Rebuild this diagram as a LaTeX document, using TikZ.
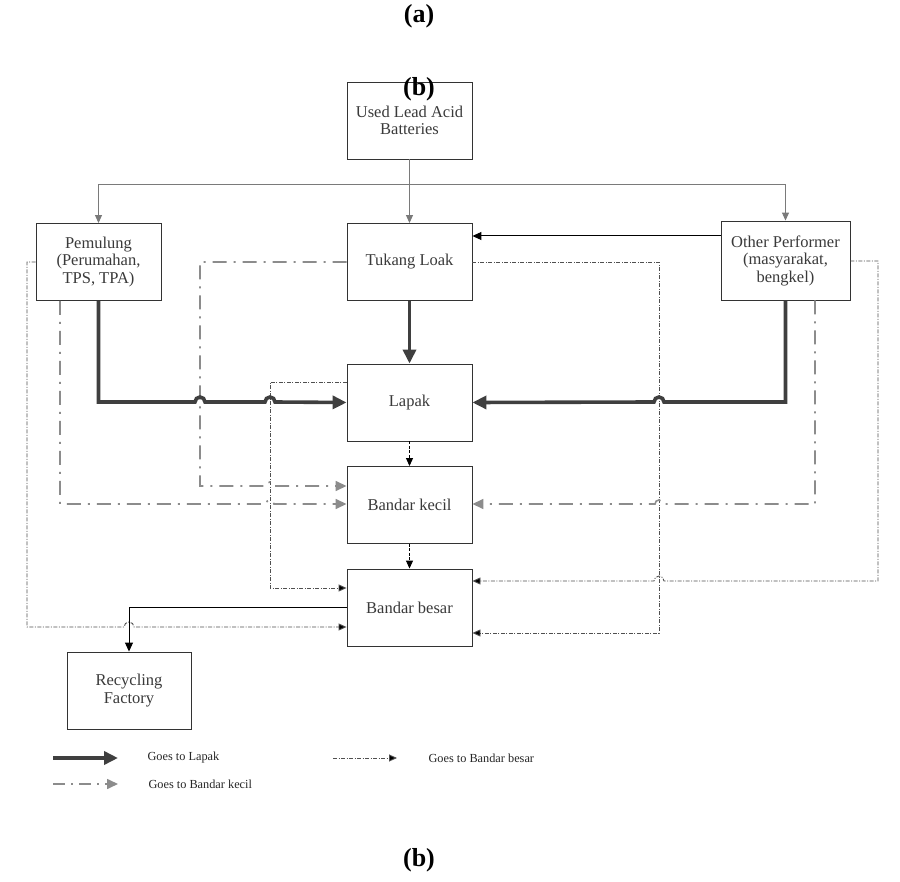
\documentclass[tikz,border=0pt]{standalone}
\usepackage{fontspec}
\setmainfont{Liberation Serif}
\usetikzlibrary{arrows.meta,calc}
\definecolor{thk}{HTML}{3F3F3F}
\definecolor{dd}{HTML}{8C8C8C}
\definecolor{dot}{HTML}{505050}
\definecolor{boxc}{HTML}{333333}
\definecolor{txt}{HTML}{3A3A3A}
\definecolor{thin}{HTML}{7A7A7A}
\begin{document}
\begin{tikzpicture}[x=1pt,y=-1pt,
  box/.style={draw=boxc,line width=0.9pt,minimum width=125pt,minimum height=77pt,
    align=center,inner sep=0pt,text=txt,font=\fontsize{16.5}{17.5}\selectfont},
  thkline/.style={draw=thk,line width=3.6pt},
  thkarr/.style={thkline,-{Triangle[length=14pt,width=13pt]}},
  ddline/.style={draw=dd,line width=1.6pt,dash pattern=on 14pt off 7pt on 2pt off 7pt},
  ddarr/.style={ddline,-{Triangle[length=11pt,width=10pt,fill=dd]}},
  dotline/.style={draw=dot,line width=0.9pt,dash pattern=on 4pt off 1.5pt on 1pt off 1.5pt},
  dotarr/.style={dotline,-{Triangle[length=8pt,width=7pt,fill=black]}},
  thinarr/.style={draw=thin,line width=1pt,-{Triangle[length=8pt,width=7pt]}},
  blkarr/.style={draw=black,line width=1pt,-{Triangle[length=9pt,width=8pt]}},
  dasharr/.style={draw=black,line width=1pt,dash pattern=on 3pt off 1.5pt,-{Triangle[length=8pt,width=7pt]}},
  lbl/.style={font=\fontsize{26}{28}\bfseries\selectfont,text=black},
  leg/.style={anchor=west,font=\fontsize{12.3}{14}\selectfont,text=black!85}
]
\fill[white] (0,0) rectangle (900,882);
\useasboundingbox (0,0) rectangle (900,882);

% boxes
\node[box] (ulab) at (409.5,120.5) {Used Lead Acid\\Batteries};
\node[box] (pem) at (98.5,262) {Pemulung\\(Perumahan,\\TPS, TPA)};
\node[box] (tl) at (409.5,262) {Tukang Loak};
\node[box,minimum width=129pt,minimum height=79pt] (op) at (785.5,260.5) {Other Performer\\(masyarakat,\\bengkel)};
\node[box] (lapak) at (409.5,402.5) {Lapak};
\node[box] (bk) at (409.5,505) {Bandar kecil};
\node[box] (bb) at (409.5,607.5) {Bandar besar};
\node[box,minimum width=124pt] (rf) at (129,690.5) {Recycling\\Factory};

% source distribution
\coordinate (bus) at (409.5,185);
\draw[thinarr] (ulab.south) -- (tl.north);
\draw[thinarr] (bus) -| (pem.north);
\draw[thinarr] (bus) -| (op.north);
\draw[blkarr] (op.west |- 0,236) -- (tl.east |- 0,236);

% goes to Bandar besar (dotted)
\draw[dotarr] (pem.west) -- (27,262) -- (27,627) -- (124,627)
  arc[start angle=180,end angle=360,radius=5] -- (bb.west |- 0,627);
\draw[dotarr] (lapak.west |- 0,382) -- (270,382) -- (270,588) -- (bb.west |- 0,588);
\draw[dotarr] (tl.east) -- (659,262) -- (659,633) -- (bb.east |- 0,633);
\draw[dotarr] (op.east |- 0,261) -- (878,261) -- (878,581) -- (664,581)
  arc[start angle=0,end angle=-180,radius=5] -- (bb.east |- 0,581);

% goes to Bandar kecil (dash-dot)
\draw[ddarr] (tl.west) -- (200,262) -- (200,486) -- (266,486)
  arc[start angle=180,end angle=360,radius=4] -- (bk.west |- 0,486);
\draw[ddarr] (pem.south -| 60,0) -- (60,504) -- (266,504)
  arc[start angle=180,end angle=360,radius=4] -- (bk.west |- 0,504);
\draw[ddarr] (op.south -| 815,0) -- (815,504) -- (663,504)
  arc[start angle=0,end angle=-180,radius=4] -- (bk.east |- 0,504);

% goes to Lapak (thick)
\draw[thkarr] (pem.south) -- (98.5,402) -- (195,402)
  arc[start angle=180,end angle=360,radius=5] -- (265,402)
  arc[start angle=180,end angle=360,radius=5] -- (lapak.west);
\draw[thkarr] (tl.south) -- (lapak.north);
\draw[thkarr] (op.south) -- (785.5,402) -- (664,402)
  arc[start angle=0,end angle=-180,radius=5] -- (lapak.east);

% chain
\draw[dasharr] (lapak.south) -- (bk.north);
\draw[dasharr] (bk.south) -- (bb.north);
\draw[blkarr] (bb.west |- 0,607) -| (rf.north);

% legend
\coordinate (l1a) at (53,758); \coordinate (l1b) at (118,758);
\coordinate (l2a) at (53,784); \coordinate (l2b) at (118,784);
\coordinate (l3a) at (333,758); \coordinate (l3b) at (397,758);
\draw[thkarr] (l1a) -- (l1b);
\draw[ddarr,dash pattern=on 12pt off 6pt on 2pt off 6pt] (l2a) -- (l2b);
\draw[dotarr] (l3a) -- (l3b);
\node[leg] (t1) at (144,758) {Goes to Lapak};
\node[leg] (t2) at (145,784) {Goes to Bandar kecil};
\node[leg] (t3) at (425,758) {Goes to Bandar besar};

% panel labels
\node[lbl] (la) at (419,16) {(a)};
\node[lbl] (lb1) at (419,89) {(b)};
\node[lbl] (lb2) at (419,860) {(b)};
\end{tikzpicture}
\end{document}
